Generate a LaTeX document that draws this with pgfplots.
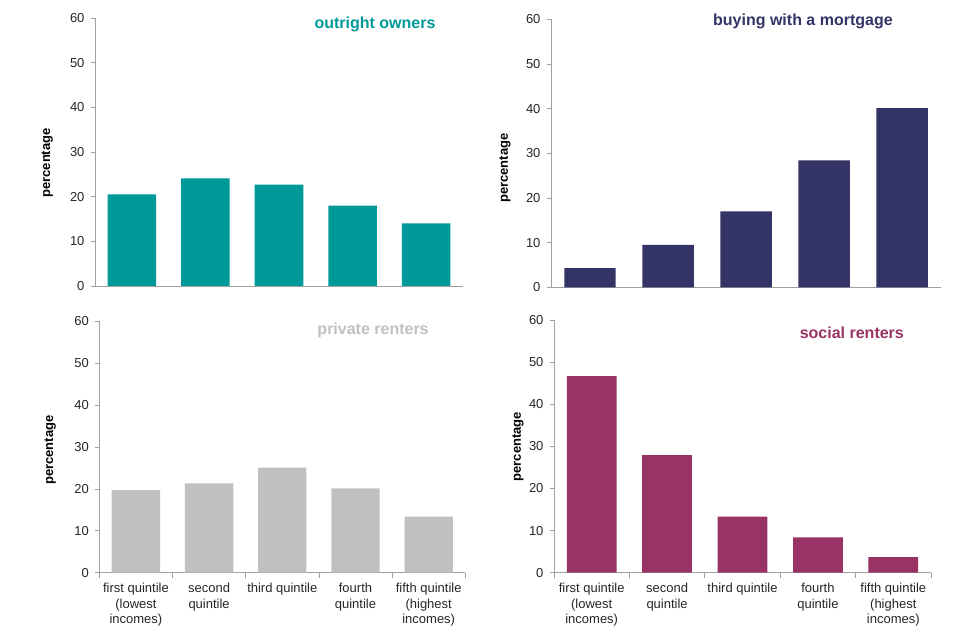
\documentclass[border=0pt]{standalone}
\usepackage{pgfplots}
\pgfplotsset{compat=1.18}
\usepackage{fontspec}
\setmainfont{Liberation Sans}

\definecolor{teal1}{RGB}{0,153,153}
\definecolor{navy1}{RGB}{51,51,102}
\definecolor{grey1}{RGB}{192,192,192}
\definecolor{plum1}{RGB}{153,51,102}
\definecolor{axisgrey}{RGB}{160,160,160}

\tikzset{ptitle/.style={font=\fontsize{16}{18}\selectfont\bfseries, anchor=base}}

\pgfplotsset{
  panel/.style={
    scale only axis,
    anchor=south west,
    clip=false,
    xmin=-0.5, xmax=4.5,
    ymin=0, ymax=60,
    ytick={0,10,...,60},
    axis x line*=bottom,
    axis y line*=left,
    axis line style={axisgrey, line width=0.8pt},
    tick style={axisgrey, line width=0.8pt},
    tick align=outside,
    major tick length=4pt,
    minor tick length=5pt,
    ybar, bar width=0.66,
    ticklabel style={font=\fontsize{13}{15.5}\selectfont, text=black!85},
    yticklabel style={xshift=-3pt},
    /pgf/number format/assume math mode=true,
    ylabel={percentage},
    ylabel style={font=\fontsize{13}{15}\selectfont\bfseries, anchor=center},
  },
  topx/.style={xtick=\empty},
  botx/.style={
    xtick={0,1,2,3,4},
    major x tick style={draw=none},
    minor xtick={-0.5,0.5,1.5,2.5,3.5,4.5},
    xticklabels={{first quintile\\(lowest\\incomes)},{second\\quintile},{third quintile},{fourth\\quintile},{fifth quintile\\(highest\\incomes)}},
    xticklabel style={align=center, yshift=-3pt},
  },
}

\pgfplotstableread{
x owners mortgage private social
0 20.5 4.3 19.7 46.7
1 24.1 9.5 21.3 27.9
2 22.7 17.0 25.1 13.3
3 18.0 28.4 20.1 8.4
4 14.0 40.1 13.4 3.7
}\tenure

\begin{document}
\begin{tikzpicture}
\useasboundingbox (0,0) rectangle (960pt,640pt);

% outright owners
\begin{axis}[panel, topx, at={(95pt,354pt)}, width=368pt, height=268pt,
  ylabel style={at={(axis description cs:-0.130,0.459)}}]
  \addplot[fill=teal1, draw=none] table[x=x, y=owners] {\tenure};
  \node[ptitle, text=teal1] at (axis description cs:0.761,0.962) {outright owners};
\end{axis}

% buying with a mortgage
\begin{axis}[panel, topx, at={(551pt,352.7pt)}, width=390pt, height=268pt,
  ylabel style={at={(axis description cs:-0.118,0.445)}}]
  \addplot[fill=navy1, draw=none] table[x=x, y=mortgage] {\tenure};
  \node[ptitle, text=navy1] at (axis description cs:0.646,0.976) {buying with a mortgage};
\end{axis}

% private renters
\begin{axis}[panel, botx, at={(99.3pt,67.3pt)}, width=366pt, height=251.4pt,
  ylabel style={at={(axis description cs:-0.134,0.488)}}]
  \addplot[fill=grey1, draw=none] table[x=x, y=private] {\tenure};
  \node[ptitle, text=grey1] at (axis description cs:0.748,0.949) {private renters};
\end{axis}

% social renters
\begin{axis}[panel, botx, at={(554pt,67.3pt)}, width=377pt, height=252.7pt,
  ylabel style={at={(axis description cs:-0.0955,0.499)}}]
  \addplot[fill=plum1, draw=none] table[x=x, y=social] {\tenure};
  \node[ptitle, text=plum1] at (axis description cs:0.790,0.928) {social renters};
\end{axis}
\end{tikzpicture}
\end{document}
